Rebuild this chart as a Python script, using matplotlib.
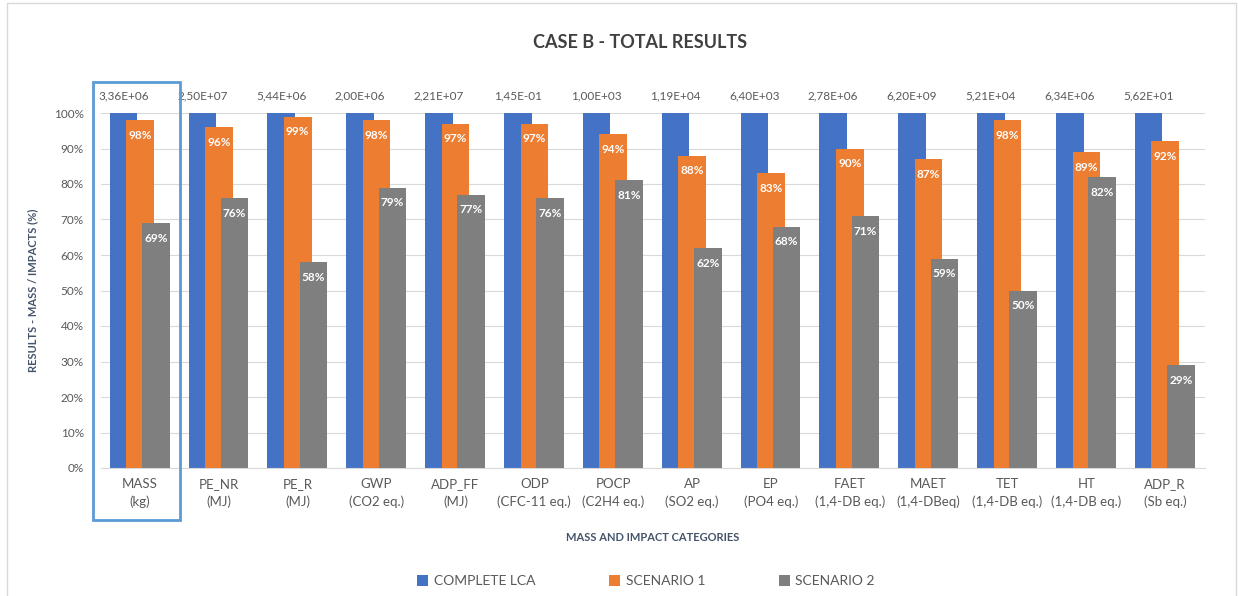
import matplotlib
matplotlib.use("Agg")
import matplotlib.pyplot as plt
from matplotlib.patches import Rectangle
import numpy as np

plt.rcParams['font.family'] = ['Lato', 'DejaVu Sans']

categories = ["MASS\n(kg)", "PE_NR\n(MJ)", "PE_R\n(MJ)", "GWP\n(CO2 eq.)", "ADP_FF\n(MJ)",
              "ODP\n(CFC-11 eq.)", "POCP\n(C2H4 eq.)", "AP\n(SO2 eq.)", "EP\n(PO4 eq.)",
              "FAET\n(1,4-DB eq.)", "MAET\n(1,4-DBeq)", "TET\n(1,4-DB eq.)", "HT\n(1,4-DB eq.)",
              "ADP_R\n(Sb eq.)"]
complete_lca = [100, 100, 100, 100, 100, 100, 100, 100, 100, 100, 100, 100, 100, 100]
scenario_1 = [98, 96, 99, 98, 97, 97, 94, 88, 83, 90, 87, 98, 89, 92]
scenario_2 = [69, 76, 58, 79, 77, 76, 81, 62, 68, 71, 59, 50, 82, 29]
absolute_values = ["3,36E+06", "2,50E+07", "5,44E+06", "2,00E+06", "2,21E+07", "1,45E-01",
                   "1,00E+03", "1,19E+04", "6,40E+03", "2,78E+06", "6,20E+09", "5,21E+04",
                   "6,34E+06", "5,62E+01"]
series_names = ["COMPLETE LCA", "SCENARIO 1", "SCENARIO 2"]
colors = ["#4472C4", "#ED7D31", "#7F7F7F"]

W, H = 1238, 596
fig = plt.figure(figsize=(W / 100, H / 100), dpi=100)
ax = fig.add_axes([100.6 / W, 1 - 468 / H, 1104 / W, 355 / H])

x = np.arange(len(categories))
width = 0.35
offsets = [-0.21, 0.0, 0.2]
series = [complete_lca, scenario_1, scenario_2]
for i, (vals, name, col) in enumerate(zip(series, series_names, colors)):
    bars = ax.bar(x + offsets[i], vals, width, color=col, label=name, zorder=2 + i)
    if i > 0:
        for b, v in zip(bars, vals):
            ax.text(b.get_x() + b.get_width() / 2, v - 4.3, f"{v}%", ha="center", va="center",
                    color="white", fontsize=8.5, fontweight="bold", zorder=10)
    else:
        for b, lab in zip(bars, absolute_values):
            ax.text(b.get_x() + b.get_width() / 2, 104.7, lab, ha="center", va="center",
                    color="#595959", fontsize=8.5, clip_on=False)

ax.set_xlim(-0.5, len(categories) - 0.5)
ax.set_ylim(0, 100)
ax.set_yticks(np.arange(0, 101, 10))
ax.set_yticklabels([f"{t}%" for t in range(0, 101, 10)])
ax.set_xticks(x)
ax.set_xticklabels(categories, linespacing=1.55)
ax.tick_params(axis="both", length=0, labelcolor="#595959")
ax.tick_params(axis="y", pad=12, labelsize=8.5)
ax.tick_params(axis="x", pad=7, labelsize=9.5)
ax.grid(axis="y", color="#D9D9D9", linewidth=0.8, zorder=0)
ax.set_axisbelow(True)
for s in ["top", "right", "left"]:
    ax.spines[s].set_visible(False)
ax.spines["bottom"].set_color("#D9D9D9")

ax.set_ylabel("RESULTS - MASS / IMPACTS (%)", fontsize=8, fontweight="bold", color="#44546A", labelpad=11)
ax.set_xlabel("MASS AND IMPACT CATEGORIES", fontsize=8, fontweight="bold", color="#44546A", labelpad=17)

# highlight box around first category
ax.add_patch(Rectangle((-0.6, -14.6), 1.11, 123.3, fill=False, edgecolor="#5B9BD5",
                       linewidth=2, clip_on=False, zorder=20))

fig.text(640 / W, 1 - 42 / H, "CASE B - TOTAL RESULTS", ha="center", va="center",
         fontsize=13, fontweight="bold", color="#404040")

handles, labels = ax.get_legend_handles_labels()
fig.legend(handles, labels, loc="center", bbox_to_anchor=(646 / W, 1 - 581 / H), ncol=3,
           frameon=False, fontsize=10, handlelength=0.8, handleheight=0.8, handletextpad=0.4,
           columnspacing=5.3, labelcolor="#595959")

fig.patches.append(Rectangle((7 / W, -0.01), (W - 9) / W, 1 - 3 / H + 0.01, transform=fig.transFigure,
                             fill=False, edgecolor="#D9D9D9", linewidth=1))

fig.savefig("out.png", dpi=100)
